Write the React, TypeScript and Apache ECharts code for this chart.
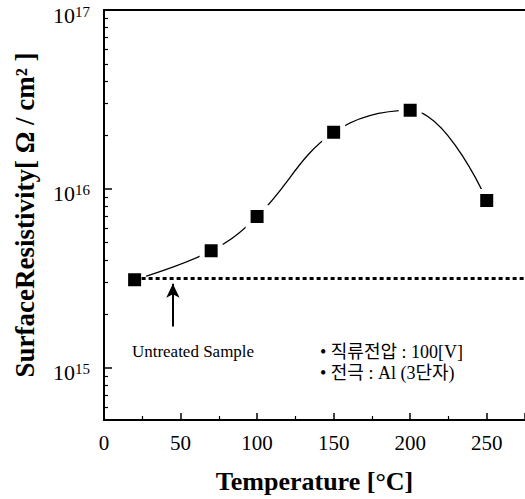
import React, { useEffect, useRef } from "react";
import * as echarts from "echarts";

// ---- data ----
const temperatures = [20, 70, 100, 150, 200, 250];
const resistivity = [3.1e15, 4.5e15, 7.0e15, 2.07e16, 2.75e16, 8.6e15];
const untreatedLevel = 3.15e15;
const untreatedStartTemp = 20;
const arrowTemp = 45;
const arrowTail = 1.7e15;
const arrowTip = 2.95e15;
const labeledExponents = [15, 16, 17];
const yMinValue = 5.1e14;
const yMaxValue = 1e17;
const xMin = 0;
const xMax = 275;
const xInterval = 50;
const noteLines = ["• 직류전압 : 100[V]", "• 전극 : Al (3단자)"];
const sampleLabel = "Untreated Sample";
const xTitle = "Temperature [°C]";
const yTitle = "SurfaceResistivity[ Ω / cm² ]";

const SERIF = "'Liberation Serif', 'Times New Roman', serif";
const NOTE_FONT = "'Liberation Serif', 'Noto Sans CJK KR', serif";

export default function App() {
  const ref = useRef<HTMLDivElement>(null);

  useEffect(() => {
    if (!ref.current) return;
    const chart = echarts.init(ref.current, undefined, { renderer: "svg" });
    const lg = (v: number) => Math.log10(v);
    const yMin = lg(yMinValue);
    const yMax = lg(yMaxValue);

    const minorTicks: number[] = [];
    for (let n = 14; n <= 16; n++) {
      for (let k = 2; k <= 9; k++) {
        const v = lg(k) + n;
        if (v >= yMin && v <= yMax) minorTicks.push(v);
      }
    }

    const pts = temperatures.map((t, i) => [t, lg(resistivity[i])]);

    chart.setOption({
      animation: false,
      backgroundColor: "#fff",
      grid: { left: 104, right: 0, top: 10, bottom: 76, containLabel: false },
      xAxis: [
        {
          type: "value",
          min: xMin,
          max: xMax,
          interval: xInterval,
          name: xTitle,
          nameLocation: "middle",
          nameGap: 48,
          nameTextStyle: { fontFamily: SERIF, fontWeight: "bold", fontSize: 26, color: "#000" },
          axisLine: { show: true, lineStyle: { color: "#000", width: 2 } },
          axisTick: { show: true, inside: true, length: 7, lineStyle: { color: "#000", width: 1.5 } },
          minorTick: { show: true, splitNumber: 2, length: 4, lineStyle: { color: "#000", width: 1.2 } },
          axisLabel: { fontFamily: SERIF, fontSize: 21, color: "#000", margin: 12, showMaxLabel: false },
          splitLine: { show: false },
        },
        {
          type: "value",
          position: "top",
          min: xMin,
          max: xMax,
          axisLine: { show: true, lineStyle: { color: "#000", width: 2 } },
          axisTick: { show: false },
          axisLabel: { show: false },
          splitLine: { show: false },
        },
      ],
      yAxis: [
        {
          type: "value",
          position: "left",
          min: yMin,
          max: yMax,
          name: yTitle,
          nameLocation: "middle",
          nameGap: 66,
          nameTextStyle: { fontFamily: SERIF, fontWeight: "bold", fontSize: 27, color: "#000" },
          axisLine: { show: true, lineStyle: { color: "#000", width: 2 } },
          axisTick: {
            show: true,
            inside: true,
            length: 8,
            customValues: labeledExponents,
            lineStyle: { color: "#000", width: 1.5 },
          },
          axisLabel: {
            customValues: labeledExponents,
            margin: 14,
            padding: [10, 0, 0, 0],
            formatter: (v: number) => `{b|10}{s|${Math.round(v)}}`,
            rich: {
              b: { fontFamily: SERIF, fontSize: 22, color: "#000" },
              s: { fontFamily: SERIF, fontSize: 15, color: "#000", verticalAlign: "top" },
            },
          },
          splitLine: { show: false },
        },
        {
          type: "value",
          position: "left",
          offset: 0,
          min: yMin,
          max: yMax,
          axisLine: { show: false },
          axisTick: {
            show: true,
            inside: true,
            length: 4,
            customValues: minorTicks,
            lineStyle: { color: "#000", width: 1.2 },
          },
          axisLabel: { show: false },
          splitLine: { show: false },
        },
      ],
      series: [
        {
          type: "line",
          data: pts,
          smooth: 0.4,
          symbol: "rect",
          symbolSize: 18,
          itemStyle: { color: "#000", borderColor: "#fff", borderWidth: 5 },
          lineStyle: { color: "#000", width: 1.3 },
          emphasis: { disabled: true },
          silent: true,
          z: 3,
          markLine: {
            silent: true,
            animation: false,
            label: { show: false },
            symbol: ["none", "none"],
            data: [
              [
                {
                  coord: [untreatedStartTemp, lg(untreatedLevel)],
                  lineStyle: { type: [4, 3], width: 3, color: "#000" },
                },
                { coord: [xMax, lg(untreatedLevel)] },
              ],
              [
                {
                  coord: [arrowTemp, lg(arrowTail)],
                  symbol: "none",
                  lineStyle: { type: "solid", width: 2, color: "#000" },
                },
                { coord: [arrowTemp, lg(arrowTip)], symbol: "arrow", symbolSize: [10, 14] },
              ],
            ],
          },
        },
      ],
      graphic: [
        {
          type: "text",
          x: 193,
          y: 351,
          silent: true,
          style: {
            text: sampleLabel,
            fontFamily: SERIF,
            fontSize: 17,
            fill: "#000",
            align: "center",
            verticalAlign: "middle",
          },
        },
        {
          type: "text",
          x: 320,
          y: 343,
          silent: true,
          style: {
            text: noteLines[0],
            fontFamily: NOTE_FONT,
            fontSize: 18,
            fill: "#000",
            align: "left",
            verticalAlign: "top",
          },
        },
        {
          type: "text",
          x: 320,
          y: 364,
          silent: true,
          style: {
            text: noteLines[1],
            fontFamily: NOTE_FONT,
            fontSize: 18,
            fill: "#000",
            align: "left",
            verticalAlign: "top",
          },
        },
      ],
    });

    return () => chart.dispose();
  }, []);

  return (
    <div
      ref={ref}
      style={{ position: "absolute", left: 0, top: 0, width: 525, height: 499 }}
    />
  );
}
